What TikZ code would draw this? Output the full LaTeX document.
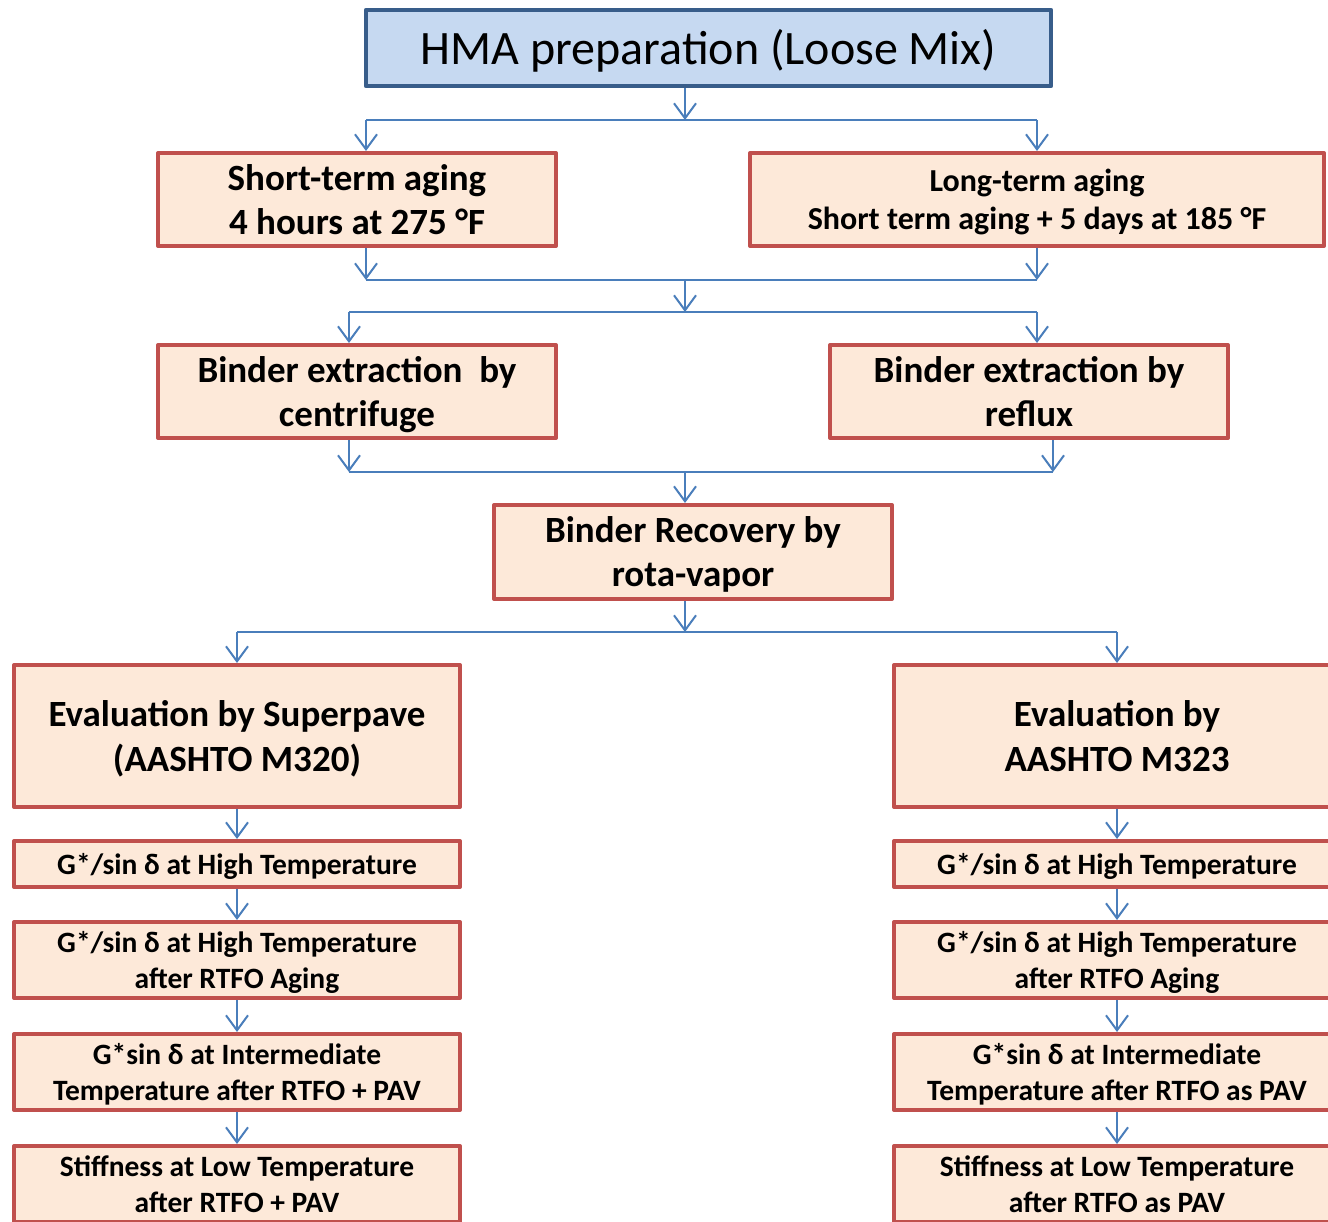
\documentclass[tikz,border=0pt]{standalone}
\usepackage{fontspec}
\setmainfont{Carlito}
\usetikzlibrary{arrows.meta}
\definecolor{redb}{RGB}{192,80,77}
\definecolor{peach}{RGB}{253,233,217}
\definecolor{blueb}{RGB}{56,93,138}
\definecolor{bluef}{RGB}{198,217,241}
\definecolor{conncol}{RGB}{74,126,187}
\begin{document}
\begin{tikzpicture}[x=1pt,y=-1pt,
  rbox/.style={draw=redb, fill=peach, line width=4pt, align=center, inner sep=0pt, line join=round},
  bbox/.style={draw=blueb, fill=bluef, line width=4.5pt, align=center, inner sep=0pt, line join=round},
  conn/.style={draw=conncol, line width=2pt},
  arr/.style={conn, -{Straight Barb[length=15pt,width=22pt]}},
  bigf/.style={font=\fontsize{37}{44}\selectfont\bfseries, yshift=-3.8pt},
  midf/.style={font=\fontsize{32}{38}\selectfont\bfseries, yshift=-3pt},
  smf/.style={font=\fontsize{29.5}{36}\selectfont\bfseries, yshift=-3pt},
  evf/.style={font=\fontsize{37}{45}\selectfont\bfseries, yshift=-3.6pt},
  wbox/.style={minimum width=398pt, minimum height=93pt},
  cbox/.style={minimum width=446pt}
]
\useasboundingbox (0,0) rectangle (1328,1221);
\clip (0,0) rectangle (1328,1221);
\fill[white] (0,0) rectangle (1328,1221);

% nodes (text shifted inside the box via a separate label node keeps box position fixed)
\node[bbox, minimum width=685pt, minimum height=76pt] (hma) at (708.5,48) {};
\node[font=\fontsize{48}{56}\selectfont, inner sep=0pt, yshift=-5pt] (hmat) at (hma.center) {\strut HMA preparation (Loose Mix)};

\node[rbox, wbox] (st) at (357,199.5) {};
\node[bigf, align=center, inner sep=0pt] (stt) at (st.center) {\strut Short-term aging\\\strut 4 hours at 275 °F};
\node[rbox, minimum width=574pt, minimum height=93pt] (lt) at (1037,199.5) {};
\node[midf, align=center, inner sep=0pt] (ltt) at (lt.center) {\strut Long-term aging\\\strut Short term aging + 5 days at 185 °F};
\node[rbox, wbox] (bc) at (357,391.5) {};
\node[bigf, align=center, inner sep=0pt] (bct) at (bc.center) {\strut Binder extraction\ \ by\\\strut centrifuge};
\node[rbox, wbox] (rf) at (1029,391.5) {};
\node[bigf, align=center, inner sep=0pt] (rft) at (rf.center) {\strut Binder extraction by\\\strut reflux};
\node[rbox, minimum width=398pt, minimum height=94pt] (rec) at (693,552) {};
\node[bigf, align=center, inner sep=0pt] (rect) at (rec.center) {\strut Binder Recovery by\\\strut rota-vapor};

\node[rbox, cbox, minimum height=142pt] (e1) at (237,736) {};
\node[evf, align=center, inner sep=0pt] (e1t) at (e1.center) {\strut Evaluation by Superpave\\\strut (AASHTO M320)};
\node[rbox, cbox, minimum height=142pt] (e2) at (1117,736) {};
\node[evf, align=center, inner sep=0pt] (e2t) at (e2.center) {\strut Evaluation by\\\strut AASHTO M323};

\node[rbox, cbox, minimum height=46pt] (l1) at (237,864) {};
\node[smf, align=center, inner sep=0pt] (l1t) at (l1.center) {\strut G*/sin δ at High Temperature};
\node[rbox, cbox, minimum height=76pt] (l2) at (237,960) {};
\node[smf, align=center, inner sep=0pt] (l2t) at (l2.center) {\strut G*/sin δ at High Temperature\\\strut after RTFO Aging};
\node[rbox, cbox, minimum height=76pt] (l3) at (237,1072) {};
\node[smf, align=center, inner sep=0pt] (l3t) at (l3.center) {\strut G*sin δ at Intermediate\\\strut Temperature after RTFO + PAV};
\node[rbox, cbox, minimum height=76pt] (l4) at (237,1184) {};
\node[smf, align=center, inner sep=0pt] (l4t) at (l4.center) {\strut Stiffness at Low Temperature\\\strut after RTFO + PAV};

\node[rbox, cbox, minimum height=46pt] (r1) at (1117,864) {};
\node[smf, align=center, inner sep=0pt] (r1t) at (r1.center) {\strut G*/sin δ at High Temperature};
\node[rbox, cbox, minimum height=76pt] (r2) at (1117,960) {};
\node[smf, align=center, inner sep=0pt] (r2t) at (r2.center) {\strut G*/sin δ at High Temperature\\\strut after RTFO Aging};
\node[rbox, cbox, minimum height=76pt] (r3) at (1117,1072) {};
\node[smf, align=center, inner sep=0pt] (r3t) at (r3.center) {\strut G*sin δ at Intermediate\\\strut Temperature after RTFO as PAV};
\node[rbox, cbox, minimum height=76pt] (r4) at (1117,1184) {};
\node[smf, align=center, inner sep=0pt] (r4t) at (r4.center) {\strut Stiffness at Low Temperature\\\strut after RTFO as PAV};

% junction coordinates
\coordinate (b1) at (685,120); \coordinate (b1l) at (366,120); \coordinate (b1r) at (1037,120);
\coordinate (b2) at (685,280); \coordinate (b2l) at (366,280); \coordinate (b2r) at (1037,280);
\coordinate (b3) at (685,312); \coordinate (b3l) at (349,312); \coordinate (b3r) at (1037,312);
\coordinate (b4) at (685,472); \coordinate (b4l) at (349,472); \coordinate (b4r) at (1053,472);
\coordinate (b5) at (685,632); \coordinate (b5l) at (237,632); \coordinate (b5r) at (1117,632);

% connectors
\draw[arr] (hma.south -| b1) -- (b1);
\draw[conn] (b1l) -- (b1r);
\draw[arr] (b1l) -- (b1l |- st.north);
\draw[arr] (b1r) -- (b1r |- lt.north);

\draw[arr] (st.south -| b2l) -- (b2l);
\draw[arr] (lt.south -| b2r) -- (b2r);
\draw[conn] (b2l) -- (b2r);
\draw[arr] (b2) -- (b3);
\draw[conn] (b3l) -- (b3r);
\draw[arr] (b3l) -- (b3l |- bc.north);
\draw[arr] (b3r) -- (b3r |- rf.north);

\draw[arr] (bc.south -| b4l) -- (b4l);
\draw[arr] (rf.south -| b4r) -- (b4r);
\draw[conn] (b4l) -- (b4r);
\draw[arr] (b4) -- (b4 |- rec.north);

\draw[arr] (rec.south -| b5) -- (b5);
\draw[conn] (b5l) -- (b5r);
\draw[arr] (b5l) -- (e1.north);
\draw[arr] (b5r) -- (e2.north);

\draw[arr] (e1.south) -- (l1.north);
\draw[arr] (l1.south) -- (l2.north);
\draw[arr] (l2.south) -- (l3.north);
\draw[arr] (l3.south) -- (l4.north);
\draw[arr] (e2.south) -- (r1.north);
\draw[arr] (r1.south) -- (r2.north);
\draw[arr] (r2.south) -- (r3.north);
\draw[arr] (r3.south) -- (r4.north);
\end{tikzpicture}
\end{document}
